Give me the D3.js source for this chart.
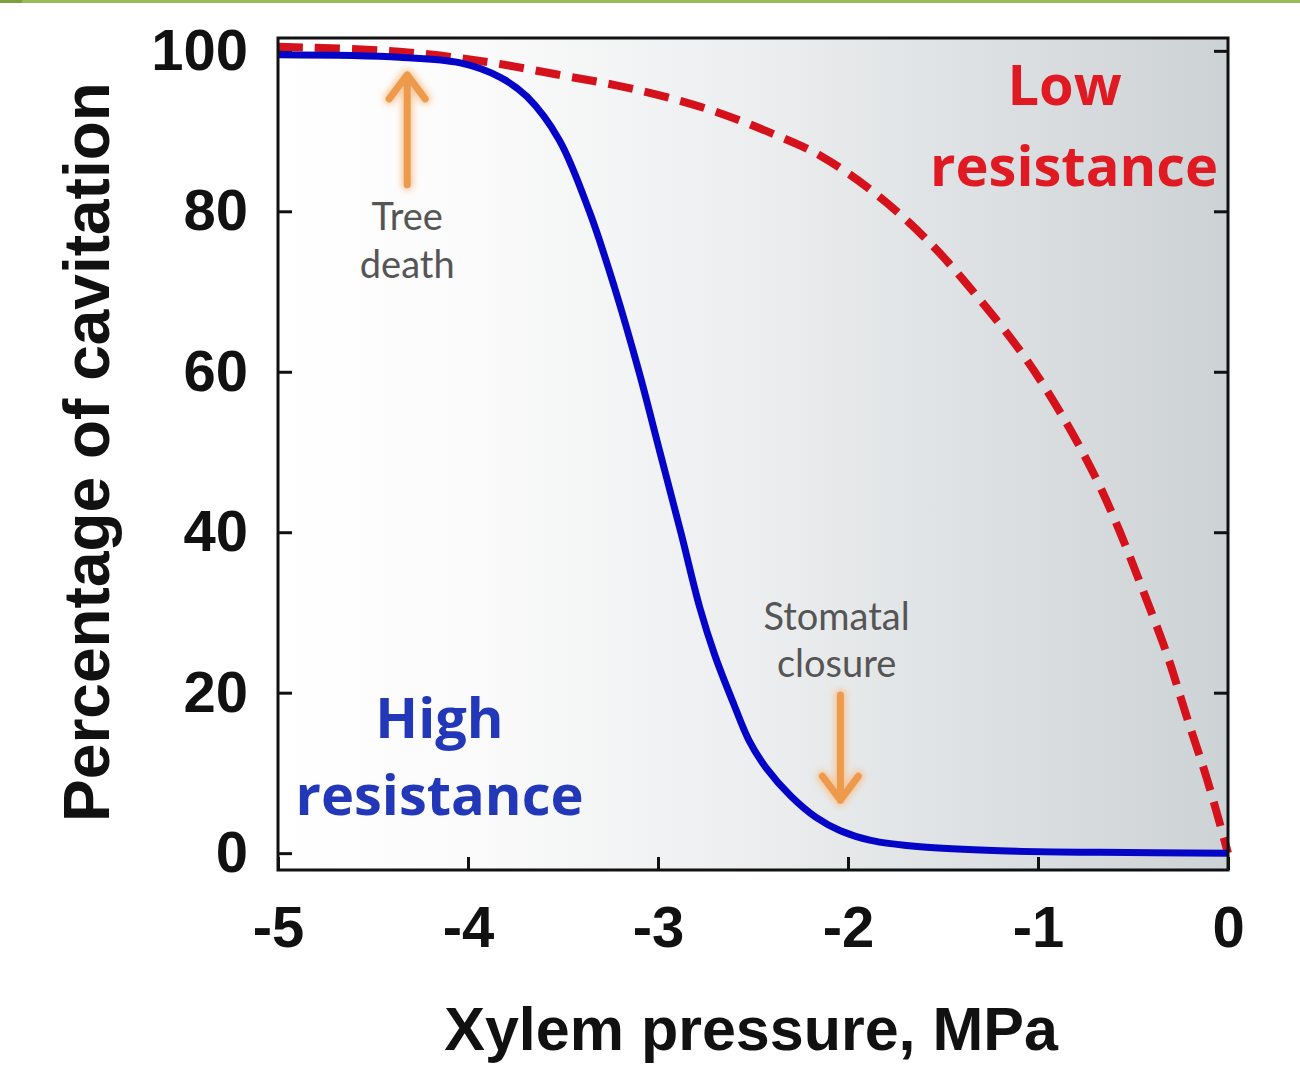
<!DOCTYPE html>
<html>
<head>
<meta charset="utf-8">
<script src="https://cdn.jsdelivr.net/npm/d3@7"></script>
<style>
  html, body { margin: 0; padding: 0; background: #ffffff; }
  svg { display: block; }
</style>
</head>
<body>
<div class="cavitation_chart"></div>
<script>
// xylem pressure (MPa) and % cavitation
const highPressure = [-5, -4.36, -4.04, -3.83, -3.69, -3.52, -3.36, -3.23, -3.1, -2.99, -2.88, -2.78, -2.7, -2.6, -2.52, -2.43, -2.3, -2.17, -2.04, -1.88, -1.62, -1.2, -0.67, 0];
const highValues   = [99.5, 99.2, 98.5, 96.7, 94.3, 88.9, 79.9, 70.6, 60.0, 50.0, 40.0, 30.6, 24.6, 18.5, 14.0, 10.6, 7.1, 4.5, 2.8, 1.6, 0.8, 0.3, 0.1, 0];

const lowPressure = [-5, -4.36, -3.87, -3.52, -3.22, -2.95, -2.67, -2.41, -2.15, -1.85, -1.57, -1.31, -1.06, -0.85, -0.69, -0.57, -0.45, -0.32, -0.22, -0.11, 0];
const lowValues   = [100.5, 99.9, 98.5, 97.0, 95.7, 94.2, 92.2, 89.8, 87.0, 82.1, 76.1, 69.1, 61.5, 53.6, 46.5, 40.1, 32.9, 24.7, 17.2, 9.2, 0];

const xTicks = [-5, -4, -3, -2, -1, 0];
const yTicks = [0, 20, 40, 60, 80, 100];

const xTitle = "Xylem pressure, MPa";
const yTitle = "Percentage of cavitation";

const W = 1300, H = 1079;
const margin = { top: 38, right: 72, bottom: 209, left: 278 };
const width = W - margin.left - margin.right;
const height = H - margin.top - margin.bottom;

const svg = d3.select(".cavitation_chart")
  .append("svg")
  .attr("width", W)
  .attr("height", H)
  .attr("viewBox", `0 0 ${W} ${H}`);

// slide decoration at the top
svg.append("rect").attr("x", 0).attr("y", 0).attr("width", 22).attr("height", 3).attr("fill", "#7f9f3f");
svg.append("rect").attr("x", 22).attr("y", 0).attr("width", W - 22).attr("height", 3).attr("fill", "#9bbb59");

const defs = svg.append("defs");
const bg = defs.append("linearGradient").attr("id", "bg-gradient")
  .attr("x1", "0%").attr("y1", "0%").attr("x2", "100%").attr("y2", "0%");
bg.append("stop").attr("offset", "0%").attr("stop-color", "#ffffff");
bg.append("stop").attr("offset", "20%").attr("stop-color", "#fbfbfb");
bg.append("stop").attr("offset", "50%").attr("stop-color", "#eceeef");
bg.append("stop").attr("offset", "100%").attr("stop-color", "#cdd2d5");

defs.append("filter").attr("id", "glow").attr("x", "-50%").attr("y", "-50%").attr("width", "200%").attr("height", "200%")
  .append("feGaussianBlur").attr("stdDeviation", 3);

const g = svg.append("g").attr("transform", `translate(${margin.left},${margin.top})`);

const x = d3.scaleLinear().domain([-5, 0]).range([0, width]);
const y = d3.scaleLinear().domain([-2.1, 101.6]).range([height, 0]);

g.append("rect").attr("width", width).attr("height", height).attr("fill", "url(#bg-gradient)");

// inward ticks on left, bottom and right
const tickFont = (sel) => sel.selectAll("text")
  .style("font-family", "'Liberation Sans', Arial, sans-serif")
  .style("font-weight", "bold")
  .style("font-size", "58px")
  .attr("fill", "#111");

const bottomAxis = g.append("g")
  .attr("transform", `translate(0,${height})`)
  .call(d3.axisBottom(x).tickValues(xTicks).tickSizeInner(-13).tickSizeOuter(0).tickPadding(36).tickFormat((d) => String(d)));
tickFont(bottomAxis);

const leftAxis = g.append("g")
  .call(d3.axisLeft(y).tickValues(yTicks).tickSizeInner(-14).tickSizeOuter(0).tickPadding(30));
tickFont(leftAxis);

g.append("g")
  .attr("transform", `translate(${width},0)`)
  .call(d3.axisRight(y).tickValues(yTicks).tickSizeInner(-14).tickSizeOuter(0).tickFormat(""));

g.selectAll(".domain").remove();
g.selectAll(".tick line").attr("stroke", "#111").attr("stroke-width", 3);
bottomAxis.selectAll("text").attr("dy", "0.71em");

// the two curves
const line = d3.line().x((d) => x(d[0])).y((d) => y(d[1])).curve(d3.curveCatmullRom.alpha(0.5));

g.append("path")
  .datum(d3.zip(lowPressure, lowValues))
  .attr("d", line)
  .attr("fill", "none")
  .attr("stroke", "#d5121b")
  .attr("stroke-width", 8)
  .attr("stroke-dasharray", "25 12");

g.append("path")
  .datum(d3.zip(highPressure, highValues))
  .attr("d", line)
  .attr("fill", "none")
  .attr("stroke", "#0505c8")
  .attr("stroke-width", 7);

// frame
g.append("rect").attr("width", width).attr("height", height)
  .attr("fill", "none").attr("stroke", "#111").attr("stroke-width", 3);

// annotations placed in data units
const notes = [
  { x: -4.32, y: 77.7, text: "Tree", size: 38, weight: 400, color: "#555" },
  { x: -4.32, y: 71.7, text: "death", size: 38, weight: 400, color: "#555" },
  { x: -2.06, y: 27.8, text: "Stomatal", size: 38, weight: 400, color: "#555" },
  { x: -2.06, y: 22.0, text: "closure", size: 38, weight: 400, color: "#555" },
  { x: -4.15, y: 14.4, text: "High", size: 56, weight: 700, color: "#2238b8" },
  { x: -4.15, y: 4.8, text: "resistance", size: 56, weight: 700, color: "#2238b8" },
  { x: -0.86, y: 93.3, text: "Low", size: 56, weight: 700, color: "#e01a22" },
  { x: -0.81, y: 83.2, text: "resistance", size: 56, weight: 700, color: "#e01a22" },
];

g.selectAll(".note").data(notes).enter().append("text")
  .attr("class", "note")
  .attr("x", (d) => x(d.x))
  .attr("y", (d) => y(d.y))
  .attr("text-anchor", "middle")
  .style("font-family", (d) => d.weight === 700 ? "'Open Sans', sans-serif" : "Lato, sans-serif")
  .style("font-weight", (d) => d.weight)
  .style("font-size", (d) => `${d.size}px`)
  .attr("fill", (d) => d.color)
  .text((d) => d.text);

// orange arrows: pressure, tail %, tip %
const arrows = [
  { x: -4.32, from: 83.3, to: 97.0 },
  { x: -2.04, from: 19.7, to: 6.6 },
];

const arrowPath = (d) => {
  const ax = x(d.x), y0 = y(d.from), y1 = y(d.to);
  const dir = y1 < y0 ? 1 : -1;
  return `M${ax},${y0}L${ax},${y1}M${ax - 18},${y1 + dir * 24}L${ax},${y1}L${ax + 18},${y1 + dir * 24}`;
};

g.selectAll(".arrow-glow").data(arrows).enter().append("path")
  .attr("d", arrowPath).attr("fill", "none")
  .attr("stroke", "#f7c08a").attr("stroke-width", 12).attr("stroke-linecap", "round")
  .attr("stroke-linejoin", "round").attr("filter", "url(#glow)").attr("opacity", 0.8);

g.selectAll(".arrow").data(arrows).enter().append("path")
  .attr("d", arrowPath).attr("fill", "none")
  .attr("stroke", "#ee9a4c").attr("stroke-width", 7).attr("stroke-linecap", "round")
  .attr("stroke-linejoin", "round");

// axis titles
svg.append("text")
  .attr("x", margin.left + x(-2.51))
  .attr("y", 1050)
  .attr("text-anchor", "middle")
  .style("font-family", "'Liberation Sans', Arial, sans-serif")
  .style("font-weight", "bold")
  .style("font-size", "61px")
  .attr("fill", "#111")
  .text(xTitle);

svg.append("text")
  .attr("transform", `translate(109,${452}) rotate(-90)`)
  .attr("text-anchor", "middle")
  .style("font-family", "'Liberation Sans', Arial, sans-serif")
  .style("font-weight", "bold")
  .style("font-size", "64px")
  .attr("fill", "#111")
  .text(yTitle);
</script>
</body>
</html>
